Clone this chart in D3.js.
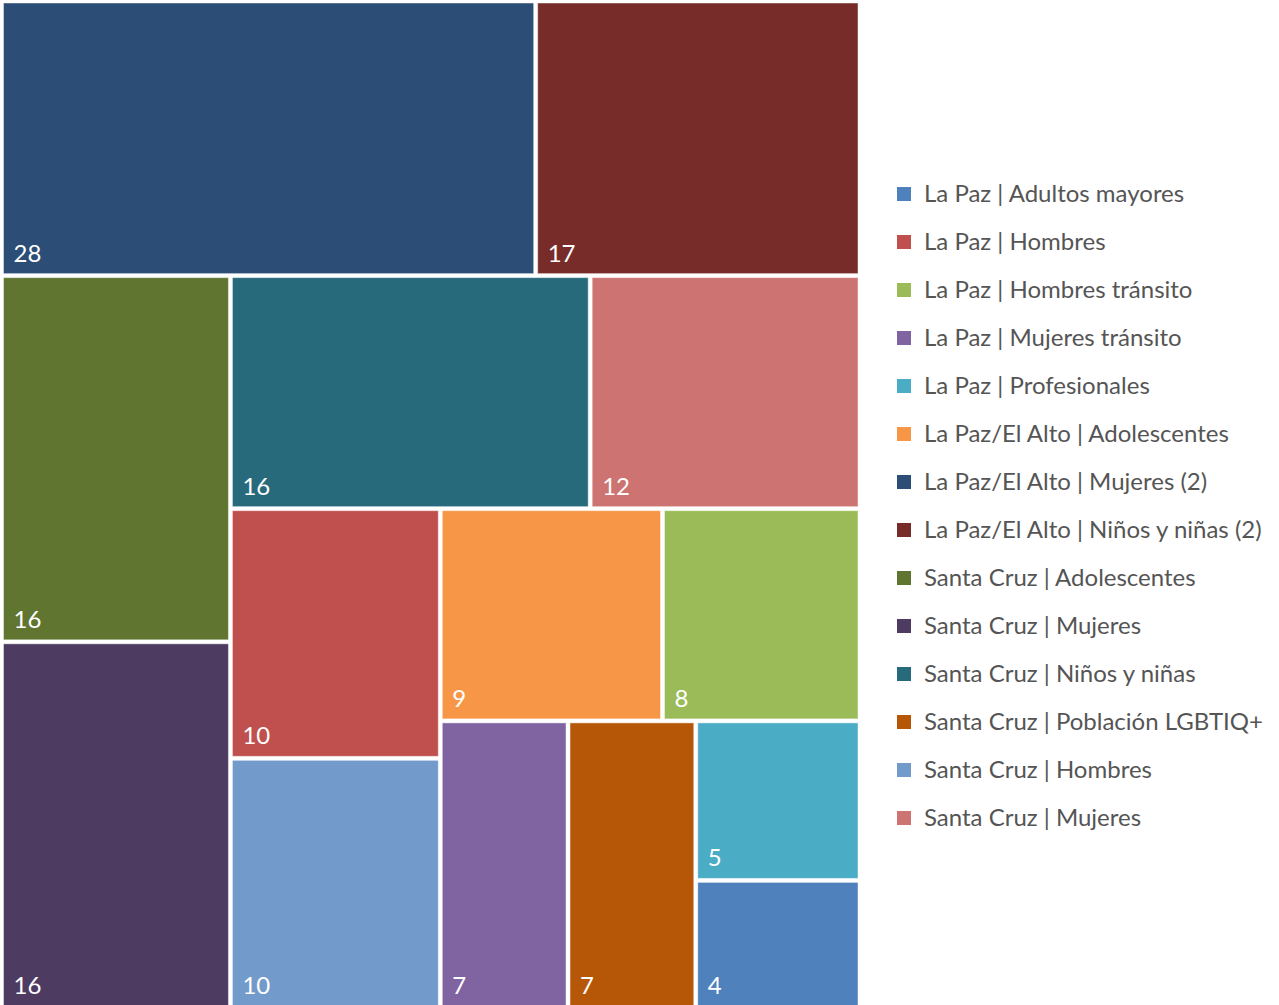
<!doctype html>
<html>
<head>
  <meta charset="utf-8" />
  <script src="https://cdnjs.cloudflare.com/ajax/libs/d3/7.8.5/d3.min.js"></script>
  <style>
  body{
    margin: 0;
    background: #fff;
    font-family: "Lato", "Open Sans", sans-serif;
  }
  .cell rect{
    stroke: #fff;
    stroke-opacity: 0.45;
    stroke-width: 1;
  }
  .cell text{
    fill: #fff;
    font-size: 24px;
  }
  .legend text{
    fill: #555;
    font-size: 24px;
  }
  </style>
</head>
<body>
  <div id="viz"></div>
  <script>
  // categorias en el orden de la leyenda
  var categories = [
    "La Paz | Adultos mayores",
    "La Paz | Hombres",
    "La Paz | Hombres tránsito",
    "La Paz | Mujeres tránsito",
    "La Paz | Profesionales",
    "La Paz/El Alto | Adolescentes",
    "La Paz/El Alto | Mujeres (2)",
    "La Paz/El Alto | Niños y niñas (2)",
    "Santa Cruz | Adolescentes",
    "Santa Cruz | Mujeres",
    "Santa Cruz | Niños y niñas",
    "Santa Cruz | Población LGBTIQ+",
    "Santa Cruz | Hombres",
    "Santa Cruz | Mujeres"
  ];
  var values = [4, 10, 8, 7, 5, 9, 28, 17, 16, 16, 16, 7, 10, 12];
  var colors = ["#4f81bd", "#c0504d", "#9bbb59", "#8064a2", "#4bacc6", "#f79646",
                "#2c4d75", "#772c2a", "#5f7530", "#4d3b62", "#276a7c", "#b65708",
                "#729aca", "#cd7371"];

  var width = 1279, height = 1005;
  var plot = {x: 3.5, y: 3, w: 854.5, h: 1003};

  // squarify como el de d3 pero con un ratio < 1 (d3 lo limita a >= 1)
  function squarifyLow(ratio){
    return function(parent, x0, y0, x1, y1){
      var nodes = parent.children, n = nodes.length,
          i0 = 0, i1 = 0, value = parent.value,
          dx, dy, sumValue, minValue, maxValue, nodeValue,
          newRatio, minRatio, alpha, beta;
      while (i0 < n) {
        dx = x1 - x0; dy = y1 - y0;
        do sumValue = nodes[i1++].value; while (!sumValue && i1 < n);
        minValue = maxValue = sumValue;
        alpha = Math.max(dy / dx, dx / dy) / (value * ratio);
        beta = sumValue * sumValue * alpha;
        minRatio = Math.max(maxValue / beta, beta / minValue);
        for (; i1 < n; ++i1) {
          sumValue += nodeValue = nodes[i1].value;
          if (nodeValue < minValue) minValue = nodeValue;
          if (nodeValue > maxValue) maxValue = nodeValue;
          beta = sumValue * sumValue * alpha;
          newRatio = Math.max(maxValue / beta, beta / minValue);
          if (newRatio > minRatio) { sumValue -= nodeValue; break; }
          minRatio = newRatio;
        }
        var row = {children: nodes.slice(i0, i1), value: sumValue};
        if (dx < dy) {
          var yb = value ? y0 + dy * sumValue / value : y1;
          d3.treemapDice(row, x0, y0, x1, yb);
          y0 = yb;
        } else {
          var xb = value ? x0 + dx * sumValue / value : x1;
          d3.treemapSlice(row, x0, y0, xb, y1);
          x0 = xb;
        }
        value -= sumValue;
        i0 = i1;
      }
    };
  }

  var svg = d3.select("#viz")
    .append("svg")
    .attr("width", width)
    .attr("height", height);

  var rows = categories.map(function(c, i){
    return {name: c, value: values[i], color: colors[i], idx: i};
  });

  var root = d3.hierarchy({children: rows})
    .sum(function(d){ return d.value || 0; })
    .sort(function(a, b){ return b.value - a.value || a.data.idx - b.data.idx; });

  d3.treemap()
    .tile(squarifyLow(0.7))
    .size([plot.w, plot.h])
    .paddingInner(4)
    .round(false)(root);

  var cell = svg.append("g")
    .attr("transform", "translate(" + plot.x + "," + plot.y + ")")
    .selectAll("g")
    .data(root.leaves())
    .enter().append("g")
    .attr("class", "cell")
    .attr("transform", function(d){ return "translate(" + d.x0 + "," + d.y0 + ")"; });

  cell.append("rect")
    .attr("width", function(d){ return d.x1 - d.x0; })
    .attr("height", function(d){ return d.y1 - d.y0; })
    .attr("fill", function(d){ return d.data.color; });

  cell.append("text")
    .attr("x", 10)
    .attr("y", function(d){ return d.y1 - d.y0 - 12; })
    .text(function(d){ return d.data.value; });

  // leyenda
  var legend = svg.append("g")
    .attr("class", "legend")
    .attr("transform", "translate(897,187)")
    .selectAll("g")
    .data(rows)
    .enter().append("g")
    .attr("transform", function(d, i){ return "translate(0," + (i * 48) + ")"; });

  legend.append("rect")
    .attr("width", 14)
    .attr("height", 14)
    .attr("fill", function(d){ return d.color; });

  legend.append("text")
    .attr("x", 27)
    .attr("y", 15)
    .text(function(d){ return d.name; });
  </script>
</body>
</html>
